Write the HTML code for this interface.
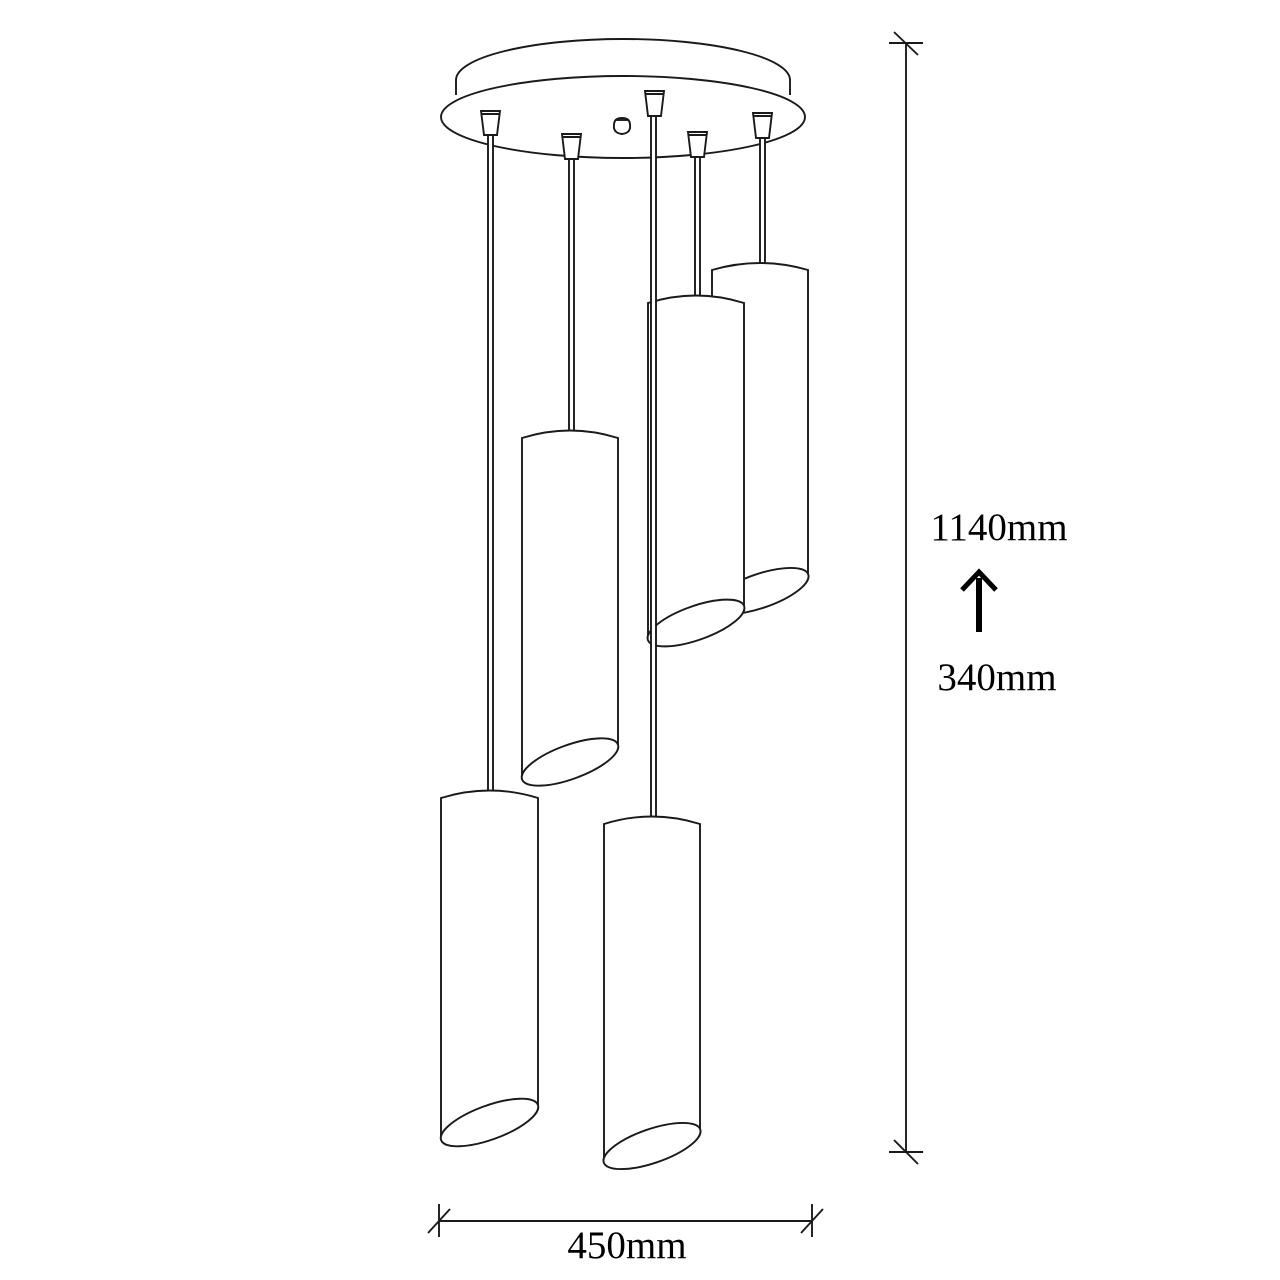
<!DOCTYPE html>
<html><head><meta charset="utf-8"><style>
html,body{margin:0;padding:0;background:#fff;}
svg{display:block;}
text{font-family:"Liberation Serif",serif;fill:#000;}
</style></head><body>
<svg width="1280" height="1280" viewBox="0 0 1280 1280" xmlns="http://www.w3.org/2000/svg">
<g fill="none" stroke="#1a1a1a" stroke-width="1.9">
<!-- canopy -->
<path d="M456 95 L456 80 A167 41 0 0 1 790 80 L790 95" fill="#fff"/>
<ellipse cx="623" cy="117" rx="182" ry="41" fill="#fff"/>
<!-- hook -->
<path d="M614 125 Q613 133 622 134 Q631 133 630 125 Q630 118 622 118 Q614 118 614 125Z" fill="#fff"/>
<line x1="615" y1="120" x2="629" y2="120"/>
<!-- cords -->
<g fill="#fff">
<rect x="488" y="134" width="5" height="660"/>
<rect x="569" y="158" width="5" height="276"/>
<rect x="695" y="156" width="5" height="142"/>
<rect x="760" y="137" width="5" height="128"/>
</g>
<!-- sockets -->
<g fill="#fff">
<path d="M481 111 L500 111 L497 135 L484 135Z"/><line x1="481" y1="114" x2="500" y2="114"/>
<path d="M562 134 L581 134 L578 159 L565 159Z"/><line x1="562" y1="137" x2="581" y2="137"/>
<path d="M645 91 L664 91 L661 116 L648 116Z"/><line x1="645" y1="94" x2="664" y2="94"/>
<path d="M688 132 L707 132 L704 157 L691 157Z"/><line x1="688" y1="135" x2="707" y2="135"/>
<path d="M753 113 L772 113 L769 138 L756 138Z"/><line x1="753" y1="116" x2="772" y2="116"/>
</g>
<!-- cylinder E -->
<g fill="#fff">
<path d="M712 270 Q760 256 808 270 L808 575 L712 608Z" stroke="none"/>
<path d="M712 608 L712 270 Q760 256 808 270 L808 575"/>
<ellipse cx="760" cy="591" rx="51" ry="17" transform="rotate(-19 760 591)"/>
</g>
<!-- cylinder D -->
<g fill="#fff">
<path d="M648 303 Q696 288 744 303 L744 606 L648 640Z" stroke="none"/>
<path d="M648 640 L648 303 Q696 288 744 303 L744 606"/>
<ellipse cx="696" cy="623" rx="51" ry="17" transform="rotate(-19.5 696 623)"/>
</g>
<!-- central cord -->
<rect x="651" y="116" width="5" height="702" fill="#fff"/>
<!-- cylinder B -->
<g fill="#fff">
<path d="M522 438 Q570 423 618 438 L618 745 L522 780Z" stroke="none"/>
<path d="M522 780 L522 438 Q570 423 618 438 L618 745"/>
<ellipse cx="570" cy="762" rx="51" ry="17" transform="rotate(-20 570 762)"/>
</g>
<!-- cylinder A -->
<g fill="#fff">
<path d="M441 798 Q489.5 783 538 798 L538 1105 L441 1140Z" stroke="none"/>
<path d="M441 1140 L441 798 Q489.5 783 538 798 L538 1105"/>
<ellipse cx="489.5" cy="1122.5" rx="51.5" ry="17" transform="rotate(-20 489.5 1122.5)"/>
</g>
<!-- cylinder C -->
<g fill="#fff">
<path d="M604 824 Q652 809 700 824 L700 1130 L604 1162Z" stroke="none"/>
<path d="M604 1162 L604 824 Q652 809 700 824 L700 1130"/>
<ellipse cx="652" cy="1146" rx="51" ry="17" transform="rotate(-19 652 1146)"/>
</g>
<!-- vertical dimension -->
<line x1="906" y1="43" x2="906" y2="1152"/>
<line x1="889" y1="43" x2="923" y2="43"/>
<line x1="894" y1="32" x2="918" y2="55"/>
<line x1="889" y1="1152" x2="923" y2="1152"/>
<line x1="894" y1="1140" x2="918" y2="1164"/>
<!-- horizontal dimension -->
<line x1="439" y1="1221" x2="812" y2="1221"/>
<line x1="439" y1="1204" x2="439" y2="1237"/>
<line x1="428" y1="1233" x2="450" y2="1209"/>
<line x1="812" y1="1204" x2="812" y2="1237"/>
<line x1="801" y1="1233" x2="823" y2="1209"/>
</g>
<!-- arrow -->
<line x1="979" y1="578" x2="979" y2="632" stroke="#000" stroke-width="6"/>
<path d="M962 590 L979 572 L996 590" fill="none" stroke="#000" stroke-width="5"/>
<text x="999" y="540" font-size="39" text-anchor="middle">1140mm</text>
<text x="997" y="690" font-size="39" text-anchor="middle">340mm</text>
<text x="627" y="1258" font-size="39" text-anchor="middle">450mm</text>
</svg>
</body></html>
